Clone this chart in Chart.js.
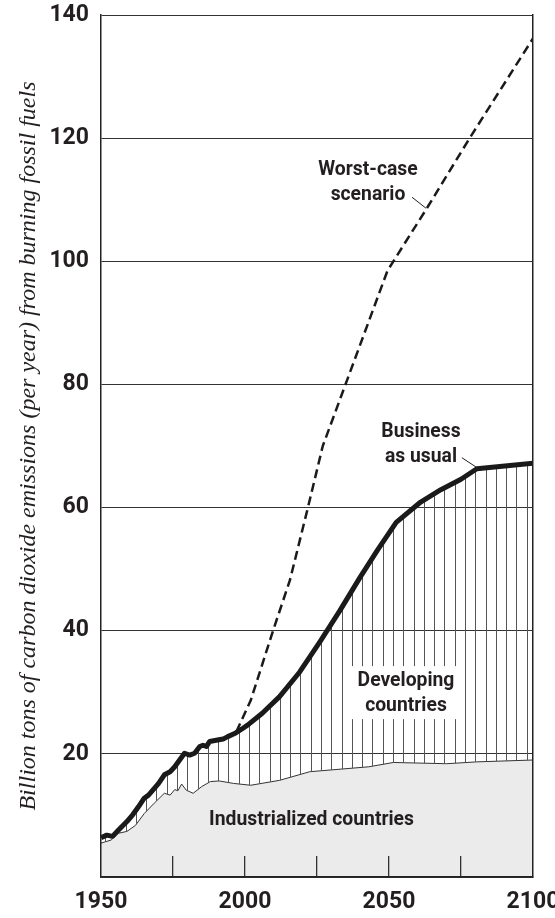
<!DOCTYPE html>
<html><head><meta charset="utf-8">
<script src="https://cdn.jsdelivr.net/npm/chart.js@4.4.1/dist/chart.umd.min.js"></script>
<style>html,body{margin:0;padding:0;background:#fff;}#wrap{width:555px;height:918px;}</style>
</head><body><div id="wrap"><canvas id="c" width="555" height="918"></canvas></div>
<script>
// ---- data ----
const industrialYears = [1950, 1953.5, 1956, 1959, 1962, 1965, 1968.5, 1972, 1974, 1975.6, 1976.7, 1978, 1979.6, 1982, 1985, 1988, 1991, 1996, 2002, 2012, 2022.5, 2043, 2051.5, 2070, 2080.5, 2100];
const industrialValues = [5.5, 6.0, 7.1, 7.4, 8.4, 10.3, 12.0, 13.6, 13.3, 14.2, 14.0, 15.1, 14.1, 13.6, 14.7, 15.5, 15.6, 15.2, 14.9, 15.7, 17.1, 17.9, 18.6, 18.4, 18.7, 19.0];
const businessYears = [1950, 1952, 1954, 1956, 1959, 1961, 1963, 1965, 1966.5, 1968, 1970, 1972, 1974, 1975.6, 1977.3, 1979, 1980.8, 1982.5, 1984.3, 1985.4, 1986.6, 1987.7, 1990, 1992.4, 1994, 1996.4, 1998.8, 2001, 2006, 2012, 2019, 2026, 2033, 2040, 2046, 2052.5, 2061, 2068, 2075, 2080.5, 2100];
const businessValues = [6.4, 6.8, 6.6, 7.6, 9.0, 10.1, 11.4, 12.8, 13.3, 14.1, 15.2, 16.6, 17.1, 17.9, 19.0, 20.1, 19.8, 20.1, 21.2, 21.4, 21.2, 22.0, 22.2, 22.4, 22.8, 23.3, 24.0, 24.7, 26.6, 29.3, 33.3, 38.2, 43.3, 48.7, 53.1, 57.6, 60.9, 62.9, 64.6, 66.3, 67.2];
const worstYears = [1997, 2002, 2009.8, 2015.6, 2021.9, 2027, 2049.5, 2063, 2078, 2100];
const worstValues = [23.6, 28.7, 40.1, 48.2, 60.1, 70.0, 98.5, 108.5, 120.0, 136.2];
const xTickLabels = [1950, 2000, 2050, 2100];
const xTickMarks = [1975, 2000, 2025, 2050, 2075];
const yTickLabels = [20, 40, 60, 80, 100, 120, 140];
const yAxisTitle = 'Billion tons of carbon dioxide emissions (per year) from burning fossil fuels';
const noteTexts = [['Worst-case', 'scenario'], ['Business', 'as usual'], ['Developing', 'countries'], ['Industrialized countries']];

// ---- styling / layout ----
const INK = '#231f20';
const TICK_FONT = {family: 'Roboto, "Liberation Sans", sans-serif', weight: 'bold', size: 23};
const NOTE_FONT = 'bold 21px Roboto, "Liberation Sans", sans-serif';
const NOTE_SQUEEZE = 0.92;
const noteAnchors = [
  {year: 2042.7, value: 114.0, leader: [[2058.0, 110.4], [2062.9, 108.6]]},
  {year: 2061.1, value: 71.5, leader: [[2075.3, 68.1], [2080.5, 66.5]]},
  {year: 2055.9, value: 31.0, box: true},
  {year: 2023.1, value: 8.4}
];

function pts(xs, ys) { return xs.map((x, i) => ({x: x, y: ys[i]})); }

function hatch() {
  const c = document.createElement('canvas');
  c.width = 72; c.height = 8;
  const g = c.getContext('2d');
  g.fillStyle = '#555';
  for (let i = 0; i < 7; i++) {
    const x = Math.round(2.1 + i * 72 / 7) % 72;
    g.fillRect(x, 0, 1, 8);
  }
  return g.createPattern(c, 'repeat');
}

const notesPlugin = {
  id: 'notes',
  afterDatasetsDraw(chart) {
    const ctx = chart.ctx, xs = chart.scales.x, ys = chart.scales.y;
    ctx.save();
    ctx.font = NOTE_FONT;
    ctx.textAlign = 'center';
    ctx.textBaseline = 'alphabetic';
    noteAnchors.forEach((a, k) => {
      const lines = noteTexts[k];
      const x = xs.getPixelForValue(a.year);
      const y = ys.getPixelForValue(a.value);
      if (a.box) {
        const w = Math.max(...lines.map(t => ctx.measureText(t).width)) * NOTE_SQUEEZE;
        ctx.fillStyle = '#fff';
        ctx.fillRect(x - w / 2 - 6, y - 20, w + 12, 20 + 25 * (lines.length - 1) + 8);
      }
      ctx.fillStyle = INK;
      lines.forEach((t, i) => {
        ctx.save();
        ctx.translate(x, y + i * 25);
        ctx.scale(NOTE_SQUEEZE, 1);
        ctx.fillText(t, 0, 0);
        ctx.restore();
      });
      if (a.leader) {
        ctx.strokeStyle = INK; ctx.lineWidth = 1;
        ctx.beginPath();
        ctx.moveTo(xs.getPixelForValue(a.leader[0][0]), ys.getPixelForValue(a.leader[0][1]));
        ctx.lineTo(xs.getPixelForValue(a.leader[1][0]), ys.getPixelForValue(a.leader[1][1]));
        ctx.stroke();
      }
    });
    ctx.restore();
  }
};

new Chart(document.getElementById('c'), {
  type: 'line',
  data: {
    datasets: [
      {label: 'Industrialized countries', data: pts(industrialYears, industrialValues), borderColor: '#333', borderWidth: 1, backgroundColor: '#ebebeb', fill: 'origin', pointRadius: 0, order: 3, tension: 0},
      {label: 'Business as usual', data: pts(businessYears, businessValues), borderColor: '#1a1a1a', borderWidth: 5, borderJoinStyle: 'round', borderCapStyle: 'butt', backgroundColor: hatch(), fill: '-1', pointRadius: 0, order: 2, tension: 0},
      {label: 'Worst-case scenario', data: pts(worstYears, worstValues), borderColor: '#1a1a1a', borderWidth: 2.5, borderDash: [9, 5], fill: false, pointRadius: 0, order: 1, tension: 0}
    ]
  },
  options: {
    responsive: false,
    animation: false,
    devicePixelRatio: 1,
    layout: {padding: {top: 15, left: 0, right: 0, bottom: 0}},
    plugins: {legend: {display: false}, tooltip: {enabled: false}},
    scales: {
      x: {
        type: 'linear', min: 1950, max: 2100,
        ticks: {stepSize: 25, autoSkip: false, maxRotation: 0, color: INK, font: TICK_FONT, padding: 32,
          callback: v => xTickLabels.includes(v) ? String(v) : ''},
        grid: {z: 1, drawOnChartArea: false, drawTicks: true, tickLength: -21, lineWidth: 1.3,
          color: c => (c.tick && xTickMarks.includes(c.tick.value)) ? '#333' : 'rgba(0,0,0,0)'},
        border: {display: true, color: '#222', width: 1.5, z: 1},
        afterFit: s => { s.height = 41; s.paddingLeft = 0; s.paddingRight = 0; }
      },
      y: {
        type: 'linear', min: 0, max: 140,
        ticks: {stepSize: 20, color: INK, font: TICK_FONT, padding: 12,
          callback: v => yTickLabels.includes(v) ? String(v) : ''},
        grid: {drawTicks: false, color: '#333', lineWidth: 1},
        border: {display: true, color: '#222', width: 1.5, z: 1},
        title: {display: true, text: yAxisTitle, color: INK, padding: {top: 14, bottom: 0},
          font: {family: '"Liberation Serif", "DejaVu Serif", serif', style: 'italic', size: 24}},
        afterFit: s => { s.width = 101; s.paddingTop = 0; s.paddingBottom = 0; }
      },
      yRight: {
        type: 'linear', position: 'right', min: 0, max: 140,
        ticks: {display: false}, grid: {display: false},
        border: {display: true, color: '#222', width: 1.5, z: 1},
        afterFit: s => { s.width = 22; s.paddingTop = 0; s.paddingBottom = 0; }
      }
    }
  },
  plugins: [notesPlugin]
});
</script></body></html>
